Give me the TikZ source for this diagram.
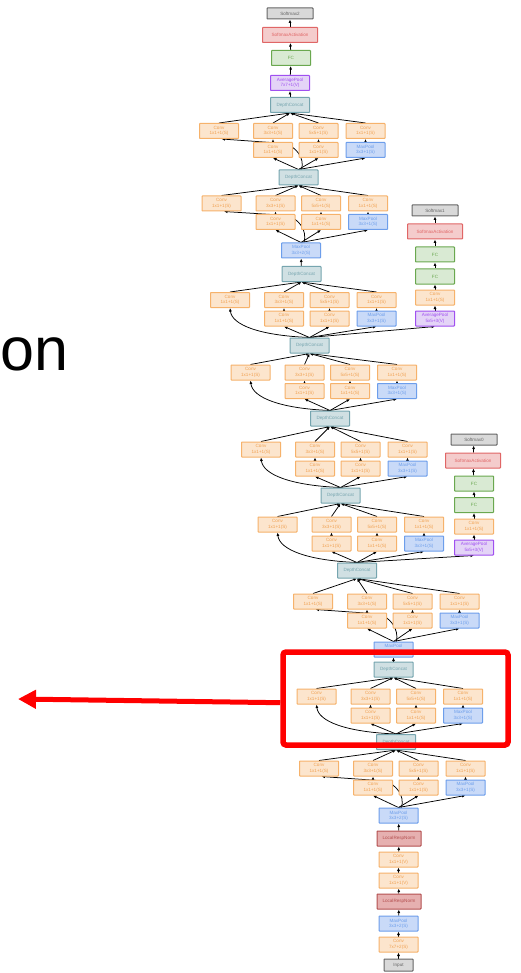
\documentclass[tikz,border=0pt]{standalone}
\usepackage{fontspec}
\setmainfont{Liberation Sans}
\usetikzlibrary{arrows.meta,calc}
\pgfdeclarelayer{bg}
\pgfsetlayers{bg,main}
\definecolor{convD}{HTML}{F6B26B}
\definecolor{convL}{HTML}{FCE5CD}
\definecolor{convT}{HTML}{F0A050}
\definecolor{poolD}{HTML}{6D9EEB}
\definecolor{poolL}{HTML}{C9DAF8}
\definecolor{dcD}{HTML}{76A5AF}
\definecolor{dcL}{HTML}{D0E0E3}
\definecolor{smD}{HTML}{666666}
\definecolor{smL}{HTML}{D9D9D9}
\definecolor{saD}{HTML}{E06666}
\definecolor{saL}{HTML}{F4CCCC}
\definecolor{fcD}{HTML}{6AA84F}
\definecolor{fcL}{HTML}{D9EAD3}
\definecolor{apD}{HTML}{A050F0}
\definecolor{apL}{HTML}{E4D4F7}
\definecolor{lrnD}{HTML}{B45050}
\definecolor{lrnL}{HTML}{E6B0B0}
\definecolor{frameR}{HTML}{FF0000}
\tikzset{
  nbox/.style={draw, line width=1pt, minimum width=39pt, minimum height=15pt, inner sep=0pt,
    align=center, rounded corners=0.6pt, font=\fontsize{4.6}{5.4}\selectfont},
  conv/.style={nbox, draw=convD, fill=convL, text=convT},
  pool/.style={nbox, draw=poolD, fill=poolL, text=poolD},
  dc/.style={nbox, draw=dcD, fill=dcL, text=dcD},
  smx/.style={nbox, draw=smD, fill=smL, text=smD, minimum width=46pt, minimum height=11pt},
  sact/.style={nbox, draw=saD, fill=saL, text=saD, minimum width=55pt},
  fc/.style={nbox, draw=fcD, fill=fcL, text=fcD},
  avp/.style={nbox, draw=apD, fill=apL, text=apD},
  lrn/.style={nbox, draw=lrnD, fill=lrnL, text=lrnD, minimum width=44pt},
  inp/.style={nbox, draw=smD, fill=smL, text=smD, minimum width=29pt, minimum height=12pt},
  arr/.style={draw=black, line width=0.75pt, -{Latex[length=3.5pt,width=3pt]}},
}
\newcommand\leftA[2]{\draw[arr] ($(#2.north)+(3,0)$) .. controls ($(#1b2.east)+(12,8)$) and ($(#1b2.east)+(3,-3)$) .. ($(#1b2.east)+(-8,-6.5)$) -- ($(#1t1.south)+(2.5,0)$);}
\newcommand\leftB[2]{\draw[arr] (#2.north) .. controls ($(#2.north)+(-50,-2)$) and ($(#1t1.south)+(2,17)$) .. (#1t1.south);}
\newcommand\incep[7]{%
  \node[conv] (#1t1) at (#4-79.5,#5) {Conv\\1x1+1(S)};
  \node[conv] (#1t2) at (#4-25.5,#5) {Conv\\3x3+1(S)};
  \node[conv] (#1t3) at (#4+20,#5) {Conv\\5x5+1(S)};
  \node[conv] (#1t4) at (#4+67,#5) {Conv\\1x1+1(S)};
  \node[conv] (#1b2) at (#4-25.5,#6) {Conv\\1x1+1(S)};
  \node[conv] (#1b3) at (#4+20,#6) {Conv\\1x1+1(S)};
  \node[pool] (#1b4) at (#4+67,#6) {MaxPool\\3x3+1(S)};
  \begin{pgfonlayer}{bg}
    \foreach \k in {1,2,3,4} {\draw[arr] (#1t\k.north) -- (#2.south);}
    \foreach \k in {2,3,4} {\draw[arr] (#3.north) -- (#1b\k.south); \draw[arr] (#1b\k.north) -- (#1t\k.south);}
    \csname left#7\endcsname{#1}{#3}%
  \end{pgfonlayer}
}
\begin{document}
\begin{tikzpicture}[x=1pt,y=-1pt]
\useasboundingbox (0,0) rectangle (521,973);
\begin{pgfonlayer}{bg}
  \fill[white] (0,0) rectangle (521,973);
\end{pgfonlayer}
% main chain
\node[smx] (sm2) at (290,13.5) {Softmax2};
\node[sact] (sa2) at (290,35) {SoftmaxActivation};
\node[fc] (fc2) at (291,58) {FC};
\node[avp] (ap2) at (290,83) {AveragePool\\7x7+1(V)};
\node[dc] (d9) at (290,105) {DepthConcat};
\node[dc] (d8) at (298.5,177.5) {DepthConcat};
\node[pool] (p3) at (301,250.5) {MaxPool\\3x3+2(S)};
\node[dc] (d7) at (301.5,274) {DepthConcat};
\node[dc] (d6) at (309.5,345.5) {DepthConcat};
\node[dc] (d5) at (330,418.5) {DepthConcat};
\node[dc] (d4) at (340.5,495.5) {DepthConcat};
\node[dc] (d3) at (357,570.5) {DepthConcat};
\node[pool] (p2) at (393.5,649.5) {MaxPool\\3x3+2(S)};
\node[dc] (d2) at (393.5,669.5) {DepthConcat};
\node[dc] (d1) at (396,742) {DepthConcat};
\node[pool] (p1) at (398.5,815.5) {MaxPool\\3x3+2(S)};
\node[lrn] (l2) at (399,838.5) {LocalRespNorm};
\node[conv] (s3) at (398.5,859.5) {Conv\\1x1+1(V)};
\node[conv] (s2) at (398.5,880.5) {Conv\\1x1+1(V)};
\node[lrn] (l1) at (399,901.5) {LocalRespNorm};
\node[pool] (p0) at (398.5,923.5) {MaxPool\\3x3+2(S)};
\node[conv] (s1) at (398.5,944.5) {Conv\\7x7+2(S)};
\node[inp] (inp0) at (398.5,965) {Input};
% side branch 1
\node[smx] (sm1) at (435,210.5) {Softmax1};
\node[sact] (sa1) at (435,231.5) {SoftmaxActivation};
\node[fc] (fc1b) at (435,254.5) {FC};
\node[fc] (fc1a) at (435,276.5) {FC};
\node[conv] (cv1) at (435,297.5) {Conv\\1x1+1(S)};
\node[avp] (ap1) at (435,318.5) {AveragePool\\5x5+3(V)};
% side branch 0
\node[smx] (sm0) at (474,439.5) {Softmax0};
\node[sact] (sa0) at (473,460.5) {SoftmaxActivation};
\node[fc] (fc0b) at (474,483.5) {FC};
\node[fc] (fc0a) at (474,505) {FC};
\node[conv] (cv0) at (474,526.5) {Conv\\1x1+1(S)};
\node[avp] (ap0) at (474,547.5) {AveragePool\\5x5+3(V)};
% inception modules
\incep{ma}{d9}{d8}{298.5}{131}{150}{A}
\incep{mb}{d8}{p3}{301}{203.5}{222}{A}
\incep{mc}{d7}{d6}{309.5}{300}{318.5}{B}
\incep{md}{d6}{d5}{330}{372.5}{391}{B}
\incep{me}{d5}{d4}{340.5}{449.5}{468.5}{B}
\incep{mf}{d4}{d3}{357}{524.5}{543.5}{B}
\incep{mg}{d3}{p2}{392.5}{601.5}{620.5}{A}
\incep{mh}{d2}{d1}{396}{696.5}{715.5}{B}
\incep{mi}{d1}{p1}{398.5}{768.5}{787.5}{A}
\begin{pgfonlayer}{bg}
  \foreach \a/\b in {d9/ap2, ap2/fc2, fc2/sa2, sa2/sm2, d7/p3, d2/p2,
      l2/p1, s3/l2, s2/s3, l1/s2, p0/l1, s1/p0, inp0/s1,
      ap1/cv1, cv1/fc1a, fc1a/fc1b, fc1b/sa1, sa1/sm1,
      ap0/cv0, cv0/fc0a, fc0a/fc0b, fc0b/sa0, sa0/sm0}
    {\draw[arr] (\a) -- (\b);}
  \draw[arr] (d6.north) -- (ap1.south);
  \draw[arr] (d3.north) -- (ap0.south);
\end{pgfonlayer}
% red frame and arrow
\node[draw=frameR, line width=5.5pt, rounded corners=3pt, minimum width=225pt, minimum height=93pt, inner sep=0pt] (frame) at (395.5,698.5) {};
\coordinate (redtip) at (18,699);
\draw[frameR, line width=5pt, -{Triangle[length=18pt,width=18pt]}] ($(frame.west)+(0,4.2)$) -- (redtip);
% cut-off title text
\node[font=\fontsize{61}{61}\selectfont, anchor=base west, inner sep=0pt] (ontext) at (0,370) {on};
\end{tikzpicture}
\end{document}
